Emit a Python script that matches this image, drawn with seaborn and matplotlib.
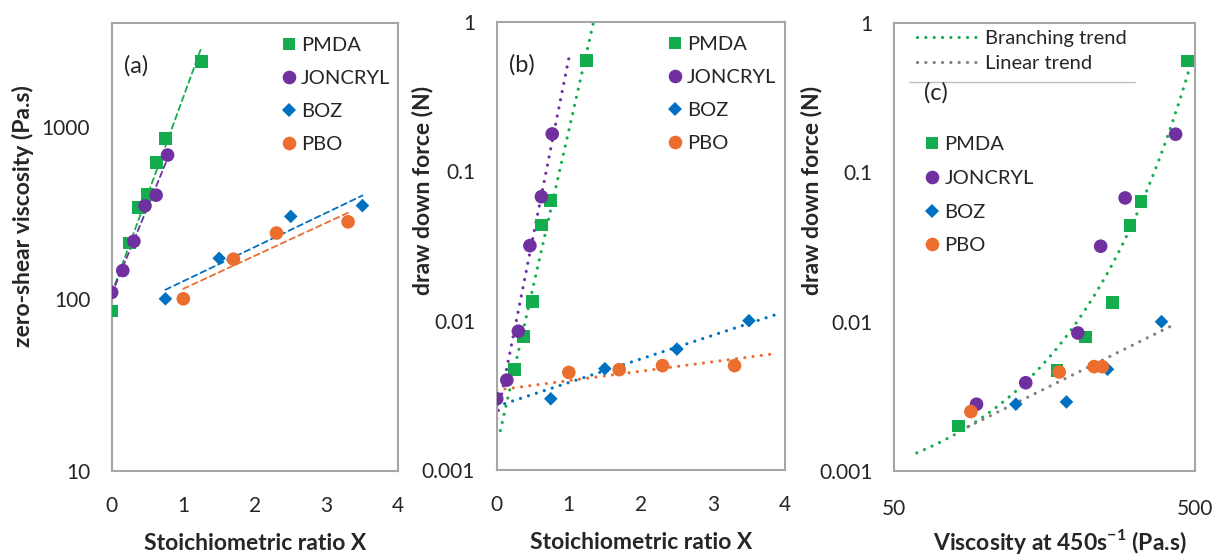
import matplotlib
matplotlib.use("Agg")
import matplotlib.pyplot as plt
import numpy as np
import pandas as pd
import seaborn as sns
from matplotlib.lines import Line2D
from matplotlib.ticker import FixedFormatter, FixedLocator, NullFormatter

SERIES = ["PMDA", "JONCRYL", "BOZ", "PBO"]
COLORS = {"PMDA": "#14AD4E", "JONCRYL": "#7030A0", "BOZ": "#0070C0", "PBO": "#EC6E2F"}
MARKERS = {"PMDA": "s", "JONCRYL": "o", "BOZ": "D", "PBO": "o"}
SIZES = {"PMDA": 84, "JONCRYL": 96, "BOZ": 48, "PBO": 96}
AXIS_GRAY = "#A6A6A6"
TEXT = "#262626"

# (a) zero-shear viscosity (Pa.s) vs stoichiometric ratio X
a_pmda_x = [0, 0.25, 0.375, 0.5, 0.625, 0.75, 1.25]
a_pmda_y = [85, 211, 339, 405, 622, 855, 2400]
a_jon_x = [0, 0.155, 0.31, 0.465, 0.62, 0.78]
a_jon_y = [109, 146, 216, 347, 400, 684]
a_boz_x = [0.75, 1.5, 2.5, 3.5]
a_boz_y = [100, 172, 301, 348]
a_pbo_x = [1.0, 1.7, 2.3, 3.3]
a_pbo_y = [100, 170, 241, 280]

# (b) draw down force (N) vs stoichiometric ratio X
b_pmda_x = [0.25, 0.375, 0.5, 0.625, 0.75, 1.25]
b_pmda_y = [0.0047, 0.0078, 0.0135, 0.0437, 0.064, 0.55]
b_jon_x = [0, 0.14, 0.3, 0.46, 0.62, 0.77]
b_jon_y = [0.003, 0.004, 0.0085, 0.0318, 0.0676, 0.178]
b_boz_x = [0.75, 1.5, 2.5, 3.5]
b_boz_y = [0.003, 0.00477, 0.00645, 0.01]
b_pbo_x = [1.0, 1.7, 2.3, 3.3]
b_pbo_y = [0.0045, 0.0047, 0.005, 0.005]
b_neat_y = 0.003  # unmarked X=0 point used in the BOZ/PBO trend fits

# (c) draw down force (N) vs viscosity at 450 1/s (Pa.s)
c_pmda_x = [82, 174, 216, 266, 304, 331, 473]
c_pmda_y = [0.002, 0.0047, 0.0079, 0.0134, 0.0439, 0.0641, 0.556]
c_jon_x = [94, 137, 204, 243, 293, 431]
c_jon_y = [0.0028, 0.0039, 0.0084, 0.032, 0.0674, 0.18]
c_boz_x = [127, 187, 256, 387]
c_boz_y = [0.0028, 0.0029, 0.0048, 0.01]
c_pbo_x = [90, 177, 231, 246]
c_pbo_y = [0.0025, 0.0046, 0.005, 0.005]

# x-ranges over which the trendlines are drawn
b_trend_range = {"PMDA": (0.05, 1.45), "JONCRYL": (0, 1.0), "BOZ": (0, 3.9), "PBO": (0, 3.9)}
branch_range = (59.5, 500)
linear_range = (88, 424)


def long_df(xs, ys):
    parts = [pd.DataFrame({"material": m, "x": x, "y": y}) for m, x, y in zip(SERIES, xs, ys)]
    return pd.concat(parts, ignore_index=True)


def scatter(ax, df):
    sns.scatterplot(
        data=df, x="x", y="y", hue="material", style="material", size="material",
        hue_order=SERIES, palette=COLORS, markers=MARKERS, sizes=SIZES,
        linewidth=0, legend=False, ax=ax, zorder=3,
    )


def exp_fit(x, y):
    return np.polyfit(np.asarray(x, float), np.log10(y), 1)


def draw_exp(ax, coef, lo, hi, color, ls, lw):
    xx = np.linspace(lo, hi, 200)
    ax.plot(xx, 10 ** np.polyval(coef, xx), color=color, ls=ls, lw=lw,
            dash_capstyle="round", zorder=2)


def style_axes(ax):
    for sp in ax.spines.values():
        sp.set_color(AXIS_GRAY)
        sp.set_linewidth(1.5)
    ax.tick_params(which="both", colors=AXIS_GRAY, labelcolor=TEXT, labelsize=15, width=1.3)
    ax.tick_params(axis="y", which="major", direction="inout", length=9, pad=11)
    ax.tick_params(axis="y", which="minor", direction="in", length=4)
    ax.set(xlabel=None, ylabel=None)


def series_legend(ax, x0, y0, spacing):
    handles = [
        Line2D([], [], ls="none", marker=MARKERS[m], color=COLORS[m],
               markersize=np.sqrt(SIZES[m]), markeredgewidth=0, label=m)
        for m in SERIES
    ]
    return ax.legend(handles=handles, loc="upper left", bbox_to_anchor=(x0, y0),
                     frameon=False, fontsize=14.5, borderpad=0, borderaxespad=0,
                     handlelength=0.8, handletextpad=0.2, labelspacing=spacing)


def log_minors(decades):
    return [k * 10.0 ** d for d in decades for k in range(2, 10)]


sns.set_theme(style="white")
plt.rcParams["font.family"] = ["Lato", "DejaVu Sans"]
plt.rcParams["mathtext.fontset"] = "custom"
plt.rcParams["mathtext.rm"] = "Lato"
plt.rcParams["mathtext.bf"] = "Lato:bold"

fig = plt.figure(figsize=(12.22, 5.57), dpi=100)
ax_a = fig.add_axes([0.0914, 0.1544, 0.2345, 0.8043])
ax_b = fig.add_axes([0.4065, 0.1562, 0.2359, 0.8043])
ax_c = fig.add_axes([0.7316, 0.1544, 0.2463, 0.8043])

label_kw = dict(fontsize=16.5, fontweight="bold", color=TEXT)
tag_kw = dict(fontsize=17, va="center", color=TEXT)
dash = (0, (3.2, 2.2))
dots = (0, (0.01, 2.6))

# ---- (a)
scatter(ax_a, long_df([a_pmda_x, a_jon_x, a_boz_x, a_pbo_x], [a_pmda_y, a_jon_y, a_boz_y, a_pbo_y]))
for m, x, y in zip(SERIES, [a_pmda_x, a_jon_x, a_boz_x, a_pbo_x], [a_pmda_y, a_jon_y, a_boz_y, a_pbo_y]):
    draw_exp(ax_a, exp_fit(x, y), min(x), max(x), COLORS[m], dash, 1.3)
ax_a.set_yscale("log")
ax_a.set_xlim(0, 4)
ax_a.set_ylim(10, 4000)
style_axes(ax_a)
ax_a.yaxis.set_major_locator(FixedLocator([10, 100, 1000]))
ax_a.yaxis.set_major_formatter(FixedFormatter(["10", "100", "1000"]))
ax_a.yaxis.set_minor_locator(FixedLocator(log_minors([1, 2, 3])))
ax_a.yaxis.set_minor_formatter(NullFormatter())
ax_a.set_ylabel("zero-shear viscosity (Pa.s)", **label_kw)
ax_a.yaxis.set_label_coords(-0.271, 0.568)
ax_a.text(0.044, 0.905, "(a)", transform=ax_a.transAxes, **tag_kw)
series_legend(ax_a, 0.59, 0.968, 0.78)

# ---- (b)
scatter(ax_b, long_df([b_pmda_x, b_jon_x, b_boz_x, b_pbo_x], [b_pmda_y, b_jon_y, b_boz_y, b_pbo_y]))
b_fit_x = [b_pmda_x, b_jon_x, [0] + b_boz_x, [0] + b_pbo_x]
b_fit_y = [b_pmda_y, b_jon_y, [b_neat_y] + b_boz_y, [b_neat_y] + b_pbo_y]
for m, x, y in zip(SERIES, b_fit_x, b_fit_y):
    lo, hi = b_trend_range[m]
    draw_exp(ax_b, exp_fit(x, y), lo, hi, COLORS[m], dots, 2.3)
ax_b.set_yscale("log")
ax_b.set_xlim(0, 4)
ax_b.set_ylim(0.001, 1)
style_axes(ax_b)
ax_b.yaxis.set_major_locator(FixedLocator([0.001, 0.01, 0.1, 1]))
ax_b.yaxis.set_major_formatter(FixedFormatter(["0.001", "0.01", "0.1", "1"]))
ax_b.yaxis.set_minor_locator(FixedLocator(log_minors([-3, -2, -1])))
ax_b.yaxis.set_minor_formatter(NullFormatter())
ax_b.set_ylabel("draw down force (N)", **label_kw)
ax_b.yaxis.set_label_coords(-0.221, 0.625)
ax_b.text(0.044, 0.905, "(b)", transform=ax_b.transAxes, **tag_kw)
series_legend(ax_b, 0.59, 0.968, 0.78)

for ax in (ax_a, ax_b):
    ax.xaxis.set_major_locator(FixedLocator([0, 1, 2, 3, 4]))
    ax.tick_params(axis="x", which="major", direction="out", length=6, pad=12)
    ax.set_xlabel("Stoichiometric ratio X", va="baseline", **label_kw)
    ax.xaxis.set_label_coords(0.5, -0.176)

# ---- (c)
scatter(ax_c, long_df([c_pmda_x, c_jon_x, c_boz_x, c_pbo_x], [c_pmda_y, c_jon_y, c_boz_y, c_pbo_y]))
branch_coef = exp_fit(c_pmda_x + c_jon_x, c_pmda_y + c_jon_y)
draw_exp(ax_c, branch_coef, *branch_range, COLORS["PMDA"], dots, 2.3)
lin_x = np.array(c_boz_x + c_pbo_x, float)
lin_y = np.array(c_boz_y + c_pbo_y, float)
k = np.sum(lin_x * lin_y) / np.sum(lin_x * lin_x)  # linear fit through origin
xx = np.linspace(*linear_range, 200)
ax_c.plot(xx, k * xx, color="#7F7F7F", ls=dots, lw=2.3, dash_capstyle="round", zorder=2)
ax_c.set_xscale("log")
ax_c.set_yscale("log")
ax_c.set_xlim(50, 500)
ax_c.set_ylim(0.001, 1)
style_axes(ax_c)
ax_c.xaxis.set_major_locator(FixedLocator([50, 500]))
ax_c.xaxis.set_major_formatter(FixedFormatter(["50", "500"]))
ax_c.xaxis.set_minor_locator(FixedLocator(list(range(100, 500, 50))))
ax_c.xaxis.set_minor_formatter(NullFormatter())
ax_c.tick_params(axis="x", which="major", direction="inout", length=11, pad=15)
ax_c.tick_params(axis="x", which="minor", direction="in", length=4.5)
ax_c.yaxis.set_major_locator(FixedLocator([0.001, 0.01, 0.1, 1]))
ax_c.yaxis.set_major_formatter(FixedFormatter(["0.001", "0.01", "0.1", "1"]))
ax_c.yaxis.set_minor_locator(FixedLocator(log_minors([-3, -2, -1])))
ax_c.yaxis.set_minor_formatter(NullFormatter())
ax_c.set_ylabel("draw down force (N)", **label_kw)
ax_c.yaxis.set_label_coords(-0.239, 0.627)
ax_c.set_xlabel("Viscosity at 450s$^{\\mathbf{-1}}$ (Pa.s)", va="baseline", **label_kw)
ax_c.xaxis.set_label_coords(0.551, -0.176)
ax_c.text(0.098, 0.844, "(c)", transform=ax_c.transAxes, **tag_kw)

trend_handles = [
    Line2D([], [], color=COLORS["PMDA"], ls=dots, lw=2.3, dash_capstyle="round", label="Branching trend"),
    Line2D([], [], color="#7F7F7F", ls=dots, lw=2.3, dash_capstyle="round", label="Linear trend"),
]
trend_leg = ax_c.legend(handles=trend_handles, loc="upper left", bbox_to_anchor=(0.075, 0.984),
                        frameon=False, fontsize=14.5, borderpad=0, borderaxespad=0,
                        handlelength=3.0, handletextpad=0.4, labelspacing=0.38)
ax_c.add_artist(trend_leg)
ax_c.add_artist(Line2D([0.05, 0.80], [0.869, 0.869], transform=ax_c.transAxes,
                       color="#BFBFBF", lw=1.0))
series_legend(ax_c, 0.10, 0.747, 0.82)

fig.savefig("out.png", dpi=100)
